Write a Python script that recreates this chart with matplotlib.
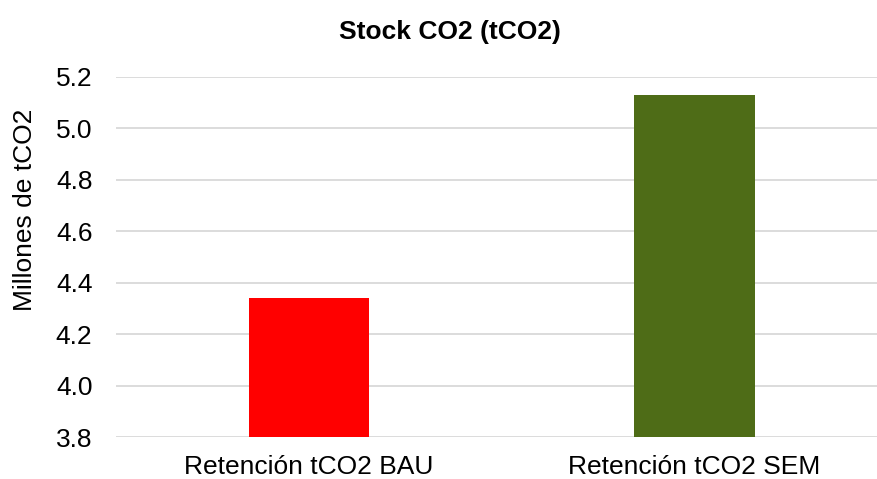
import matplotlib.pyplot as plt
import numpy as np

plt.rcParams['font.family'] = ['Liberation Sans', 'DejaVu Sans']

# datos
categorias = ['Retención tCO2 BAU', 'Retención tCO2 SEM']
valores = [4.34, 5.13]
colores = ['#FF0000', '#4E6C17']
yticks = [3.8, 4.0, 4.2, 4.4, 4.6, 4.8, 5.0, 5.2]

fig = plt.figure(figsize=(8.78, 4.79), dpi=100)
ax = fig.add_axes([116 / 878, 41.7 / 479, 1 - 116 / 878, 360.3 / 479])

x = np.arange(len(categorias))
ax.bar(x, valores, width=0.3127, color=colores, zorder=3)

ax.set_xlim(-0.5, 1.476)
ax.set_ylim(3.8, 5.2)
ax.set_yticks(yticks)
ax.set_yticklabels(['{:.1f}'.format(v) for v in yticks])
ax.set_xticks(x)
ax.set_xticklabels(categorias)
ax.tick_params(axis='both', length=0, labelsize=19, colors='black')
ax.tick_params(axis='y', pad=17)
ax.tick_params(axis='x', pad=13)

# lineas de la cuadricula
ax.grid(axis='y', color='#d9d9d9', linewidth=1.3, zorder=0)
for s in ax.spines.values():
    s.set_visible(False)

fig.text(25 / 878, 1 - 210 / 479, 'Millones de tCO2', rotation=90,
         ha='center', va='center', fontsize=19)
fig.text(0.513, 0.933, 'Stock CO2 (tCO2)', ha='center', va='center',
         fontsize=19, fontweight='bold')

fig.savefig('out.png', dpi=100)
